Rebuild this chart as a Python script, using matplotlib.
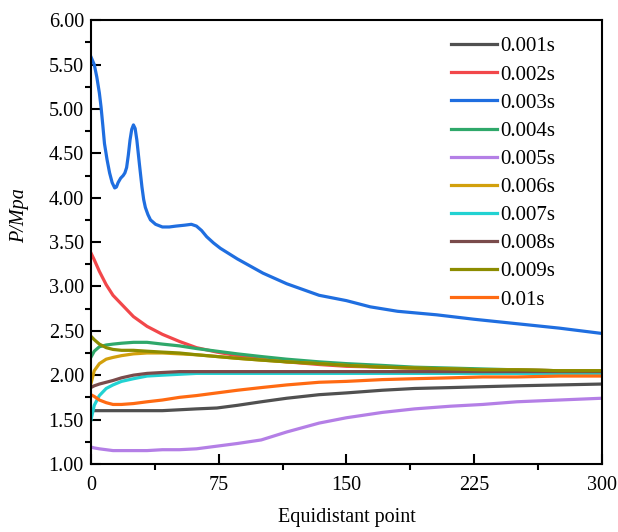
import numpy as np
import matplotlib
matplotlib.use("Agg")
import matplotlib.pyplot as plt
from matplotlib.ticker import MultipleLocator, FormatStrFormatter

plt.rcParams['font.family'] = ['Liberation Serif', 'DejaVu Serif']

# equidistant points shared by most series
x_pts = [0, 2, 5, 9, 13, 18, 25, 33, 42, 52, 62, 74, 86, 100, 115, 134,
         150, 171, 190, 211, 230, 250, 275, 300]

p_001 = [1.60, 1.60, 1.60, 1.60, 1.60, 1.60, 1.60, 1.60, 1.60, 1.61, 1.62, 1.63,
         1.66, 1.70, 1.74, 1.78, 1.80, 1.83, 1.85, 1.86, 1.87, 1.88, 1.89, 1.90]
p_002 = [3.38, 3.30, 3.17, 3.02, 2.90, 2.80, 2.66, 2.55, 2.46, 2.38, 2.31, 2.26,
         2.22, 2.18, 2.15, 2.12, 2.10, 2.09, 2.08, 2.07, 2.06, 2.06, 2.05, 2.05]
p_004 = [2.20, 2.27, 2.32, 2.34, 2.35, 2.36, 2.37, 2.37, 2.35, 2.33, 2.30, 2.27,
         2.24, 2.21, 2.18, 2.15, 2.13, 2.11, 2.09, 2.08, 2.07, 2.06, 2.05, 2.05]
p_005 = [1.19, 1.18, 1.17, 1.16, 1.15, 1.15, 1.15, 1.15, 1.16, 1.16, 1.17, 1.20,
         1.23, 1.27, 1.36, 1.46, 1.52, 1.58, 1.62, 1.65, 1.67, 1.70, 1.72, 1.74]
p_006 = [1.90, 2.05, 2.13, 2.18, 2.20, 2.22, 2.24, 2.25, 2.25, 2.24, 2.23, 2.21,
         2.19, 2.17, 2.15, 2.13, 2.11, 2.09, 2.08, 2.07, 2.06, 2.06, 2.05, 2.05]
p_007 = [1.49, 1.66, 1.77, 1.85, 1.89, 1.93, 1.96, 1.99, 2.00, 2.01, 2.02, 2.02,
         2.02, 2.02, 2.02, 2.02, 2.02, 2.02, 2.02, 2.02, 2.02, 2.02, 2.02, 2.02]
p_008 = [1.86, 1.88, 1.90, 1.92, 1.94, 1.97, 2.00, 2.02, 2.03, 2.04, 2.04, 2.04,
         2.04, 2.04, 2.04, 2.04, 2.04, 2.04, 2.04, 2.04, 2.04, 2.04, 2.04, 2.04]
p_009 = [2.44, 2.40, 2.35, 2.31, 2.29, 2.28, 2.28, 2.27, 2.26, 2.25, 2.23, 2.21,
         2.19, 2.17, 2.15, 2.13, 2.11, 2.09, 2.08, 2.07, 2.06, 2.06, 2.05, 2.05]
p_010 = [1.78, 1.76, 1.72, 1.69, 1.67, 1.67, 1.68, 1.70, 1.72, 1.75, 1.77, 1.80,
         1.83, 1.86, 1.89, 1.92, 1.93, 1.95, 1.96, 1.97, 1.98, 1.98, 1.99, 1.99]

# 0.003s has its own finer sampling near the peak
x_003 = [0, 2, 3.5, 5, 6, 7, 8, 9.5, 11, 12.5, 14, 15, 16, 17.5, 19, 20, 21, 22,
         23, 24, 25, 26, 27, 28.5, 30, 31, 32, 33.5, 35, 38, 42, 46, 50, 55, 59,
         62, 65, 68, 72, 76, 86, 101, 115, 134, 150, 164, 180, 203, 225, 250,
         275, 300]
p_003 = [5.59, 5.50, 5.36, 5.18, 5.02, 4.82, 4.61, 4.43, 4.28, 4.17, 4.11, 4.12,
         4.17, 4.22, 4.25, 4.28, 4.34, 4.48, 4.65, 4.77, 4.82, 4.78, 4.65, 4.38,
         4.12, 3.98, 3.89, 3.81, 3.75, 3.70, 3.67, 3.67, 3.68, 3.69, 3.70, 3.68,
         3.63, 3.56, 3.49, 3.43, 3.31, 3.15, 3.03, 2.90, 2.84, 2.77, 2.72, 2.68,
         2.63, 2.58, 2.53, 2.47]

labels = ['0.001s', '0.002s', '0.003s', '0.004s', '0.005s',
          '0.006s', '0.007s', '0.008s', '0.009s', '0.01s']
colors = ['#505050', '#f2474a', '#1f6ee0', '#2fa86a', '#b47fe6',
          '#d2a00c', '#22d2d2', '#7a4b4b', '#8c8c00', '#ff6a12']

series = [(x_pts, p_001), (x_pts, p_002), (x_003, p_003), (x_pts, p_004),
          (x_pts, p_005), (x_pts, p_006), (x_pts, p_007), (x_pts, p_008),
          (x_pts, p_009), (x_pts, p_010)]

fig = plt.figure(figsize=(6.18, 5.32), dpi=100)
ax = fig.add_axes([0.147, 0.128, 0.827, 0.834])

for (xs, ys), lab, c in zip(series, labels, colors):
    ax.plot(xs, ys, color=c, lw=2.3, label=lab, solid_joinstyle='round')

ax.set_xlim(0, 300)
ax.set_ylim(1.0, 6.0)
ax.xaxis.set_major_locator(MultipleLocator(75))
ax.xaxis.set_minor_locator(MultipleLocator(37.5))
ax.yaxis.set_major_locator(MultipleLocator(0.5))
ax.yaxis.set_minor_locator(MultipleLocator(0.25))
ax.yaxis.set_major_formatter(FormatStrFormatter('%.2f'))

ax.tick_params(which='major', direction='in', length=7, width=1.5,
               labelsize=14.5, colors='black', pad=5)
ax.tick_params(axis='x', which='major', pad=9)
ax.tick_params(which='minor', direction='out', length=4, width=1.5)
for s in ax.spines.values():
    s.set_linewidth(1.5)

ax.set_xlabel('Equidistant point', fontsize=14.5, labelpad=9)
ax.set_ylabel('P/Mpa', fontsize=14.5, style='italic')
ax.yaxis.set_label_coords(-0.12, 0.56)

ax.legend(loc='upper left', bbox_to_anchor=(0.672, 1.0), frameon=False,
          fontsize=15, handlelength=2.2, handletextpad=0.15,
          labelspacing=0.41, borderpad=0.3)

fig.savefig('out.png', dpi=100)
